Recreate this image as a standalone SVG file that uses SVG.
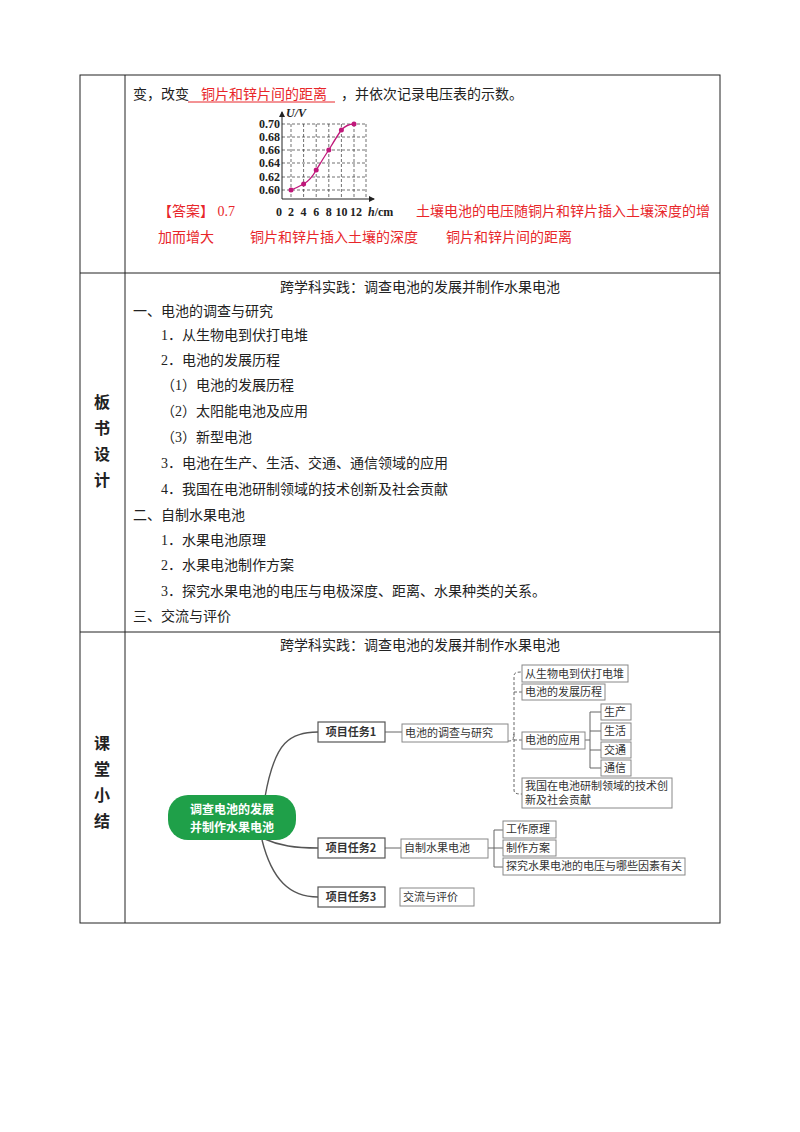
<svg xmlns="http://www.w3.org/2000/svg" width="800" height="1132" viewBox="0 0 800 1132">
<style>
text{font-family:"Liberation Serif","Noto Sans CJK SC",serif;font-size:14px;fill:#222}
.r{fill:#e8262a}
.b{font-weight:bold;font-size:16px;text-anchor:middle}
.m{font-family:"Noto Sans CJK SC",sans-serif;font-size:11px;fill:#333}
.mb{font-family:"Noto Sans CJK SC",sans-serif;font-size:11px;font-weight:bold;fill:#333;text-anchor:middle}
.bx{fill:#fff;stroke:#888;stroke-width:1}
.tb{fill:#fff;stroke:#555;stroke-width:1.2}
.ln{fill:none;stroke:#666;stroke-width:1}
.cv{fill:none;stroke:#555;stroke-width:1.4}
.g{stroke:#333;stroke-width:0.7;stroke-dasharray:3 2}
.ax{font-family:"Liberation Serif",serif;font-size:12px;font-weight:bold}
</style>
<defs><marker id="ar" markerWidth="6" markerHeight="6" refX="5" refY="3" orient="auto"><path d="M0,0L6,3L0,6z" fill="#222"/></marker></defs>
<g id="table" fill="none" stroke="#222" stroke-width="1">
<rect x="80" y="75" width="640" height="848"/>
<line x1="125" y1="75" x2="125" y2="923"/>
<line x1="80" y1="273" x2="720" y2="273"/>
<line x1="80" y1="632" x2="720" y2="632"/>
</g>
<g id="row1">
<text x="133" y="99">变，改变<tspan class="r" dx="12">铜片和锌片间的距离</tspan><tspan dx="14">，并依次记录电压表的示数。</tspan></text>
<line x1="188" y1="102" x2="335" y2="102" stroke="#e8262a"/>
<text class="r" x="158" y="216">【答案】 0.7</text>
<text class="r" x="416" y="216">土壤电池的电压随铜片和锌片插入土壤深度的增</text>
<text class="r" x="158" y="242">加而增大<tspan dx="36">铜片和锌片插入土壤的深度</tspan><tspan dx="28">铜片和锌片间的距离</tspan></text>
</g>
<g id="chart">
<g class="g">
<line x1="282" y1="124" x2="366" y2="124"/><line x1="282" y1="137" x2="366" y2="137"/><line x1="282" y1="150" x2="366" y2="150"/><line x1="282" y1="163" x2="366" y2="163"/><line x1="282" y1="177" x2="366" y2="177"/><line x1="282" y1="190" x2="366" y2="190"/>
<line x1="291" y1="124" x2="291" y2="199"/><line x1="303.6" y1="124" x2="303.6" y2="199"/><line x1="316.2" y1="124" x2="316.2" y2="199"/><line x1="328.8" y1="124" x2="328.8" y2="199"/><line x1="341.4" y1="124" x2="341.4" y2="199"/><line x1="354" y1="124" x2="354" y2="199"/><line x1="366" y1="124" x2="366" y2="199"/>
</g>
<line x1="282" y1="199" x2="374" y2="199" stroke="#222" marker-end="url(#ar)"/>
<line x1="282" y1="199" x2="282" y2="112" stroke="#222" marker-end="url(#ar)"/>
<path d="M291,190 C296,188 300,186 303.6,184 C309,181 313,176 316.2,170 C320,164 324,157 328.8,150 C333,143 337,136 341.4,130 C345,126 350,124 354,124" fill="none" stroke="#c0187a" stroke-width="1.3"/>
<g fill="#c0187a"><circle cx="291" cy="190" r="2.5"/><circle cx="303.6" cy="184" r="2.5"/><circle cx="316.2" cy="170" r="2.5"/><circle cx="328.8" cy="150" r="2.5"/><circle cx="341.4" cy="130" r="2.5"/><circle cx="354" cy="124" r="2.5"/></g>
<g text-anchor="end"><text class="ax" x="280" y="128">0.70</text><text class="ax" x="280" y="141">0.68</text><text class="ax" x="280" y="154">0.66</text><text class="ax" x="280" y="167">0.64</text><text class="ax" x="280" y="181">0.62</text><text class="ax" x="280" y="194">0.60</text></g>
<text class="ax" x="286" y="117" font-style="italic">U/V</text>
<text class="ax" x="276" y="216">0</text>
<g text-anchor="middle"><text class="ax" x="291" y="216">2</text><text class="ax" x="303.6" y="216">4</text><text class="ax" x="316.2" y="216">6</text><text class="ax" x="328.8" y="216">8</text><text class="ax" x="341.4" y="216">10</text><text class="ax" x="356" y="216">12</text></g>
<text class="ax" x="368" y="216"><tspan font-style="italic">h</tspan>/cm</text>
</g>
<g id="row2">
<text x="420" y="292" text-anchor="middle">跨学科实践：调查电池的发展并制作水果电池</text>
<text x="133" y="316">一、电池的调查与研究</text>
<text x="161" y="340">1．从生物电到伏打电堆</text>
<text x="161" y="365">2．电池的发展历程</text>
<text x="161" y="390">（1）电池的发展历程</text>
<text x="161" y="416">（2）太阳能电池及应用</text>
<text x="161" y="442">（3）新型电池</text>
<text x="161" y="468">3．电池在生产、生活、交通、通信领域的应用</text>
<text x="161" y="494">4．我国在电池研制领域的技术创新及社会贡献</text>
<text x="133" y="520">二、自制水果电池</text>
<text x="161" y="545">1．水果电池原理</text>
<text x="161" y="570">2．水果电池制作方案</text>
<text x="161" y="596">3．探究水果电池的电压与电极深度、距离、水果种类的关系。</text>
<text x="133" y="621">三、交流与评价</text>
<text class="b" x="102" y="408">板</text><text class="b" x="102" y="434">书</text><text class="b" x="102" y="460">设</text><text class="b" x="102" y="486">计</text>
<text class="b" x="102" y="749">课</text><text class="b" x="102" y="775">堂</text><text class="b" x="102" y="801">小</text><text class="b" x="102" y="827">结</text>
</g>
<text x="420" y="650" text-anchor="middle">跨学科实践：调查电池的发展并制作水果电池</text>
<g id="connectors">
<path class="cv" d="M265,797 C275,740 290,733 318,732"/>
<path class="cv" d="M262,838 C280,846 295,848 318,848"/>
<path class="cv" d="M262,840 C272,880 290,897 318,897"/>
<path class="ln" d="M385,732 L402,732"/>
<path class="ln" d="M385,848 L401,848"/>
<path class="ln" stroke-dasharray="3 2" d="M508,741 C516,741 512,738 514,734 L514,676 C514,672 518,672 522,672 M514,692 L522,692 M514,740 L522,740 M514,734 L514,790 C514,794 518,794 522,794"/>
<path class="ln" d="M585,740 L590,740 L590,712 L601,712 M590,731 L601,731 M590,740 L590,768 L601,768 M590,750 L601,750"/>
<path class="ln" d="M488,848 L494,848 L494,830 L503,830 M494,848 L503,848 M494,848 L494,867 L503,867"/>
</g>
<g id="center"><rect x="168" y="795" width="128" height="45" rx="20" fill="#1fa049"/>
<text x="232" y="814" text-anchor="middle" style="fill:#fff;font-family:'Noto Sans CJK SC',sans-serif;font-size:12px;font-weight:bold">调查电池的发展</text>
<text x="232" y="832" text-anchor="middle" style="fill:#fff;font-family:'Noto Sans CJK SC',sans-serif;font-size:12px;font-weight:bold">并制作水果电池</text></g>
<g id="t1"><rect class="tb" x="318" y="722" width="67" height="20"/><text class="mb" x="351" y="736">项目任务1</text></g>
<g id="t2"><rect class="tb" x="318" y="838" width="67" height="20"/><text class="mb" x="351" y="852">项目任务2</text></g>
<g id="t3"><rect class="tb" x="318" y="887" width="67" height="20"/><text class="mb" x="351" y="901">项目任务3</text></g>
<g id="n1"><rect class="bx" x="402" y="724" width="106" height="18"/><text class="m" x="405" y="737">电池的调查与研究</text></g>
<g id="n2"><rect class="bx" x="401" y="839" width="87" height="19"/><text class="m" x="404" y="852">自制水果电池</text></g>
<g id="n3"><rect class="bx" x="400" y="888" width="74" height="18"/><text class="m" x="403" y="901">交流与评价</text></g>
<g id="a1"><rect class="bx" x="522" y="665" width="106" height="17"/><text class="m" x="525" y="678">从生物电到伏打电堆</text></g>
<g id="a2"><rect class="bx" x="522" y="684" width="83" height="16"/><text class="m" x="525" y="696">电池的发展历程</text></g>
<g id="a3"><rect class="bx" x="522" y="732" width="63" height="17"/><text class="m" x="525" y="744">电池的应用</text></g>
<g id="b1"><rect class="bx" x="601" y="704" width="30" height="16"/><text class="m" x="604" y="716">生产</text></g>
<g id="b2"><rect class="bx" x="601" y="723" width="30" height="17"/><text class="m" x="604" y="735">生活</text></g>
<g id="b3"><rect class="bx" x="601" y="742" width="30" height="16"/><text class="m" x="604" y="754">交通</text></g>
<g id="b4"><rect class="bx" x="601" y="760" width="30" height="16"/><text class="m" x="604" y="772">通信</text></g>
<g id="a4"><rect class="bx" x="522" y="778" width="150" height="30"/><text class="m" x="525" y="790">我国在电池研制领域的技术创</text><text class="m" x="525" y="804">新及社会贡献</text></g>
<g id="c1"><rect class="bx" x="503" y="821" width="53" height="17"/><text class="m" x="506" y="833">工作原理</text></g>
<g id="c2"><rect class="bx" x="503" y="840" width="53" height="16"/><text class="m" x="506" y="852">制作方案</text></g>
<g id="c3"><rect class="bx" x="503" y="858" width="182" height="17"/><text class="m" x="506" y="870">探究水果电池的电压与哪些因素有关</text></g>
</svg>
